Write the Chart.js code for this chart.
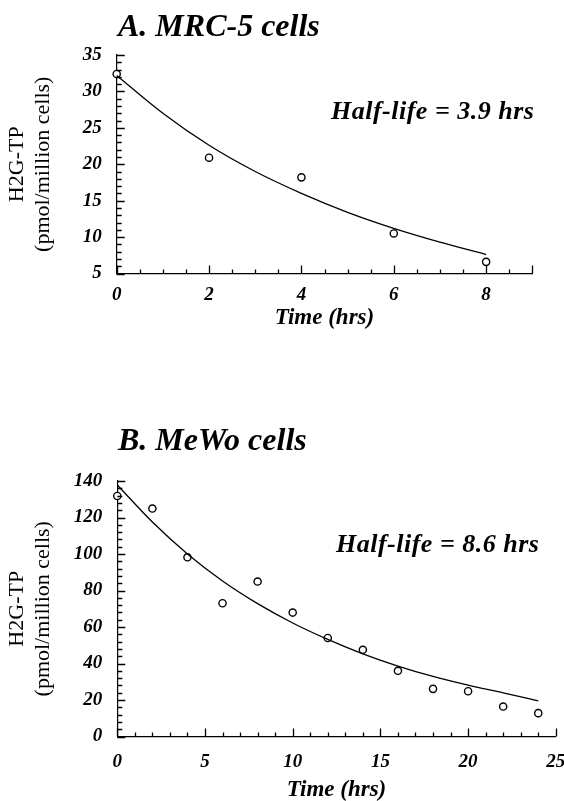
<!DOCTYPE html>
<html lang="en">
<head>
  <meta charset="UTF-8">
  <title>H2G-TP half-life</title>
  <script src="https://cdn.jsdelivr.net/npm/chart.js"></script>
  <style>
    body {
      margin: 0;
      width: 564px;
      height: 801px;
      overflow: hidden;
      position: relative;
      background: #fff;
      font-family: 'Liberation Serif', 'Times New Roman', serif;
    }

    .box {
      position: absolute;
      left: 0;
      width: 564px;
    }

    #boxA { top: 0; height: 332px; }
    #boxB { top: 400px; height: 404px; }

    .label {
      position: absolute;
      color: #000;
      font-weight: bold;
      font-style: italic;
      line-height: 1;
      white-space: nowrap;
    }

    .panel-title {
      left: 118px;
      font-size: 32px;
    }

    .half-life {
      font-size: 26px;
      letter-spacing: 0.5px;
    }
  </style>
</head>
<body>
  <div class="box" id="boxA"><canvas id="chartA"></canvas></div>
  <div class="box" id="boxB"><canvas id="chartB"></canvas></div>

  <div class="label panel-title" style="top: 9px;">A. MRC-5 cells</div>
  <div class="label half-life" style="left: 331px; top: 98px;">Half-life = 3.9 hrs</div>
  <div class="label panel-title" style="top: 423px;">B. MeWo cells</div>
  <div class="label half-life" style="left: 336px; top: 531px;">Half-life = 8.6 hrs</div>

  <script>
    // A. MRC-5 cells - measured points and fitted decay curve
    const timeA = [0, 2, 4, 6, 8];
    const levelA = [32.4, 20.9, 18.2, 10.5, 6.6];
    const fitTimeA = [0, 1, 2, 3, 4, 5, 6, 7, 8];
    const fitA = [32.2, 27.0, 22.6, 19.0, 16.0, 13.4, 11.2, 9.3, 7.6];

    // B. MeWo cells
    const timeB = [0, 2, 4, 6, 8, 10, 12, 14, 16, 18, 20, 22, 24];
    const levelB = [131.8, 124.9, 98.2, 73.0, 84.9, 67.9, 54.0, 47.5, 36.0, 26.1, 24.8, 16.4, 12.8];
    const fitTimeB = [0, 2, 4, 6, 8, 10, 12, 14, 16, 18, 20, 22, 24];
    const fitB = [137.8, 117.5, 100.0, 85.2, 72.8, 62.2, 53.2, 45.3, 38.6, 32.9, 28.1, 23.9, 19.5];

    const xTitle = 'Time (hrs)';
    const yTitle = ['H2G-TP', '(pmol/million cells)'];

    const serif = "'Liberation Serif', 'Times New Roman', serif";
    const tickFont = { family: serif, size: 19, style: 'italic', weight: 'bold' };

    function toXY(xs, ys) {
      return xs.map((x, i) => ({ x: x, y: ys[i] }));
    }

    function strokeSegments(ctx, segs) {
      ctx.save();
      ctx.strokeStyle = '#000';
      ctx.lineWidth = 1.3;
      ctx.setLineDash([]);
      ctx.beginPath();
      segs.forEach(s => {
        ctx.moveTo(s[0], s[1]);
        ctx.lineTo(s[2], s[3]);
      });
      ctx.stroke();
      ctx.restore();
    }

    // tick marks pointing into the plot, long on major values, short otherwise
    function innerTicks(majorX, majorY) {
      return {
        id: 'innerTicks',
        afterDraw(chart) {
          const sx = chart.scales.x;
          const sy = chart.scales.y;
          const area = chart.chartArea;
          const segs = [];
          sx.ticks.forEach(t => {
            const px = Math.round(sx.getPixelForValue(t.value)) + 0.5;
            const len = (t.value % majorX === 0 || t.value === sx.max) ? 8 : 4;
            segs.push([px, area.bottom, px, area.bottom - len]);
          });
          sy.ticks.forEach(t => {
            const py = Math.round(sy.getPixelForValue(t.value)) + 0.5;
            const len = t.value % majorY === 0 ? 8 : 5;
            segs.push([area.left, py, area.left + len, py]);
          });
          strokeSegments(chart.ctx, segs);
        }
      };
    }

    function xAxis(min, max, step, major, height, pad) {
      return {
        type: 'linear',
        min: min,
        max: max,
        afterFit: s => {
          s.height = height;
          s.paddingLeft = 0;
          s.paddingRight = 0;
        },
        border: { color: '#000', width: 1.2 },
        grid: { drawOnChartArea: false, drawTicks: false },
        ticks: {
          stepSize: step,
          autoSkip: false,
          maxRotation: 0,
          padding: pad,
          color: '#000',
          font: tickFont,
          callback: v => v % major === 0 ? v : ''
        },
        title: {
          display: true,
          text: xTitle,
          color: '#000',
          padding: 0,
          font: { family: serif, size: 23, style: 'italic', weight: 'bold' }
        }
      };
    }

    function yAxis(min, max, step, major, width) {
      return {
        type: 'linear',
        min: min,
        max: max,
        afterFit: s => {
          s.width = width;
          s.paddingTop = 0;
          s.paddingBottom = 0;
        },
        border: { color: '#000', width: 1.2 },
        grid: { drawOnChartArea: false, drawTicks: false },
        ticks: {
          stepSize: step,
          autoSkip: false,
          padding: 15,
          color: '#000',
          font: tickFont,
          callback: v => v % major === 0 ? v : ''
        },
        title: {
          display: true,
          text: yTitle,
          color: '#000',
          padding: { top: 5, bottom: 0 },
          font: { family: serif, size: 22, lineHeight: 1.15 }
        }
      };
    }

    function makeChart(id, points, curve, xs, ys, pad, majorX, majorY) {
      return new Chart(document.getElementById(id), {
        type: 'scatter',
        data: {
          datasets: [
            {
              data: curve,
              showLine: true,
              cubicInterpolationMode: 'monotone',
              borderColor: '#000',
              borderWidth: 1.3,
              pointRadius: 0,
              clip: false
            },
            {
              data: points,
              pointRadius: 3.6,
              pointBorderWidth: 1.4,
              pointBorderColor: '#000',
              pointBackgroundColor: '#fff',
              clip: false
            }
          ]
        },
        options: {
          responsive: true,
          maintainAspectRatio: false,
          animation: false,
          layout: { padding: pad },
          plugins: { legend: { display: false }, tooltip: { enabled: false } },
          scales: { x: xs, y: ys }
        },
        plugins: [innerTicks(majorX, majorY)]
      });
    }

    makeChart('chartA',
      toXY(timeA, levelA),
      toXY(fitTimeA, fitA),
      xAxis(0, 9, 0.5, 2, 58.5, 10),
      yAxis(5, 35, 1, 5, 116.7),
      { top: 55, right: 31.7, left: 0, bottom: 0 },
      2, 5);

    makeChart('chartB',
      toXY(timeB, levelB),
      toXY(fitTimeB, fitB),
      xAxis(0, 25, 1, 5, 67.5, 13.8),
      yAxis(0, 140, 4, 20, 117.3),
      { top: 81, right: 8.2, left: 0, bottom: 0 },
      5, 20);
  </script>
</body>
</html>
